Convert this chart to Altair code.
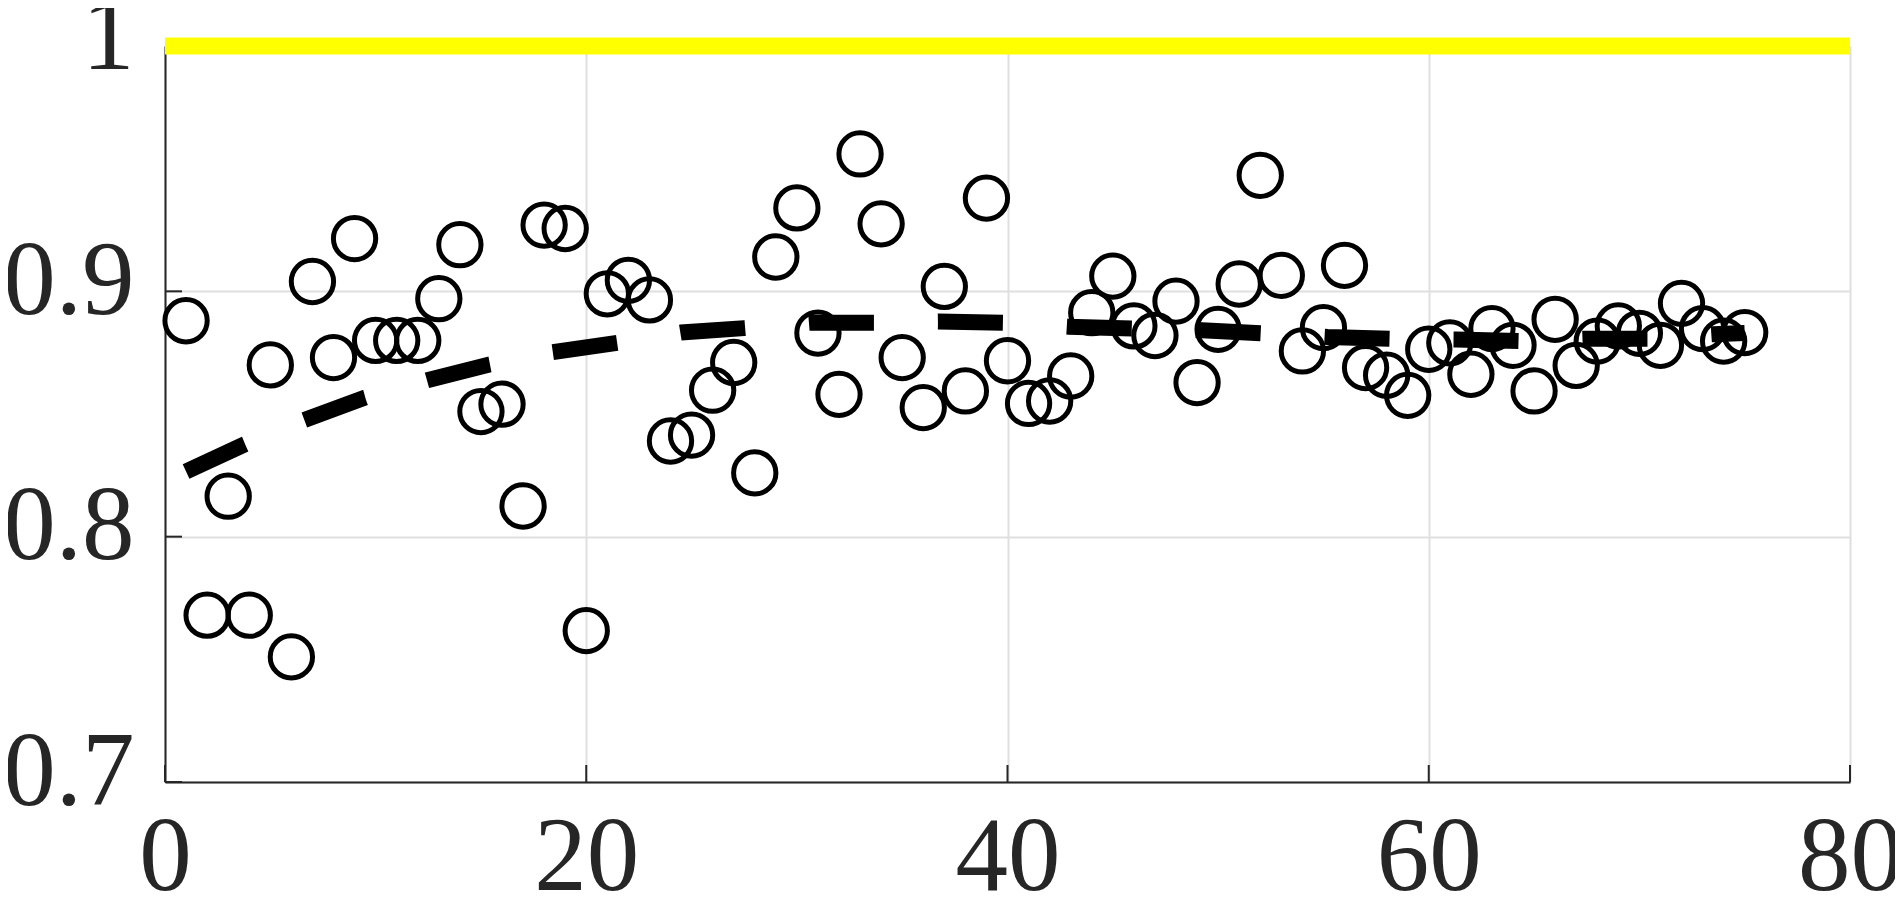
import altair as alt
import pandas as pd

# ---- data ----
point_x = list(range(1, 76))
point_y = [
    0.888, 0.768, 0.8165, 0.768, 0.870, 0.751, 0.904, 0.873, 0.9215, 0.880,
    0.880, 0.880, 0.897, 0.919, 0.851, 0.854, 0.8125, 0.927, 0.9256, 0.7617,
    0.899, 0.9045, 0.8965, 0.839, 0.8414, 0.8597, 0.871, 0.826, 0.914, 0.934,
    0.883, 0.858, 0.956, 0.9275, 0.873, 0.8526, 0.902, 0.8594, 0.938, 0.8717,
    0.8543, 0.8553, 0.8655, 0.8913, 0.9062, 0.8859, 0.882, 0.896, 0.8628, 0.8845,
    0.903, 0.9473, 0.9065, 0.8757, 0.8852, 0.9106, 0.8689, 0.8658, 0.8576, 0.8764,
    0.879, 0.8662, 0.8848, 0.878, 0.8594, 0.8886, 0.8698, 0.8797, 0.8859, 0.8829,
    0.878, 0.8951, 0.8848, 0.8797, 0.8832,
]
curve_x = [1.0, 3.8, 6.6, 9.5, 12.5, 15.4, 18.4, 21.5, 24.5, 27.5, 30.6, 33.7, 36.7,
           39.8, 42.9, 45.9, 49.0, 52.1, 55.2, 58.2, 61.3, 64.3, 67.4, 70.4, 73.5, 75.0]
curve_y = [0.8266, 0.8377, 0.8475, 0.8567, 0.8639, 0.8702, 0.8752, 0.8790, 0.8832,
           0.8850, 0.8872, 0.8872, 0.8877, 0.8872, 0.8856, 0.8849, 0.8842, 0.8829,
           0.8814, 0.8807, 0.8804, 0.8797, 0.8807, 0.8807, 0.8825, 0.8830]
x_ticks = [0, 20, 40, 60, 80]
y_ticks = [0.7, 0.8, 0.9, 1.0]
ref_level = 1.0
x_range = [0, 80]
y_range = [0.7, 1.0]

# ---- styling ----
W, H = 1685, 736
FONT = "Liberation Serif"
INK = "#262626"
GRID = "#dfdfdf"
TICK_LEN = 17

pts = pd.DataFrame({"x": point_x, "y": point_y})
curve = pd.DataFrame({"x": curve_x, "y": curve_y, "order": list(range(len(curve_x)))})
ref = pd.DataFrame({"x": [x_range[0]], "x2": [x_range[1]], "y": [ref_level]})
xt = pd.DataFrame({"x": x_ticks})
yt = pd.DataFrame({"y": y_ticks})

xscale = alt.Scale(domain=x_range, nice=False, zero=False)
yscale = alt.Scale(domain=y_range, nice=False, zero=False)

common_axis = dict(
    ticks=False, title=None, labelFont=FONT, labelFontSize=105, labelColor=INK,
    labelFlush=False, labelOverlap=False, labelLimit=2000, domainColor=INK, domainWidth=2,
    gridColor=GRID, gridWidth=2,
)
xaxis = alt.Axis(values=x_ticks, format="d", labelPadding=24, **common_axis)
yaxis = alt.Axis(values=y_ticks, format="~g", labelPadding=31, labelOffset=-10, **common_axis)

X = lambda f="x:Q": alt.X(f, scale=xscale, axis=xaxis)
Y = lambda f="y:Q": alt.Y(f, scale=yscale, axis=yaxis)

ticks_x = alt.Chart(xt).mark_rule(color=INK, strokeWidth=2).encode(
    x=X(), y=alt.value(H), y2=alt.value(H - TICK_LEN)
)
ticks_y = alt.Chart(yt).mark_rule(color=INK, strokeWidth=2).encode(
    y=Y(), x=alt.value(0), x2=alt.value(TICK_LEN)
)
circles = alt.Chart(pts).mark_point(
    shape="circle", filled=False, size=1790, strokeWidth=5, color="black", opacity=1
).encode(x=X(), y=Y())
line = alt.Chart(curve).mark_line(
    color="black", strokeWidth=16, strokeDash=[65, 64], strokeCap="butt"
).encode(x=X(), y=Y(), order="order:Q")
yellow = alt.Chart(ref).mark_rule(color="#ffff00", strokeWidth=17, strokeCap="butt").encode(
    x=X(), x2="x2:Q", y=Y()
)

chart = alt.layer(ticks_x, ticks_y, circles, line, yellow).properties(
    width=W, height=H,
    padding={"left": 157, "top": 38, "right": 45, "bottom": 117},
    autosize=alt.AutoSizeParams(type="none"),
).configure_view(stroke=None)

chart.save("out.html", embed_options={"renderer": "svg", "actions": False})
